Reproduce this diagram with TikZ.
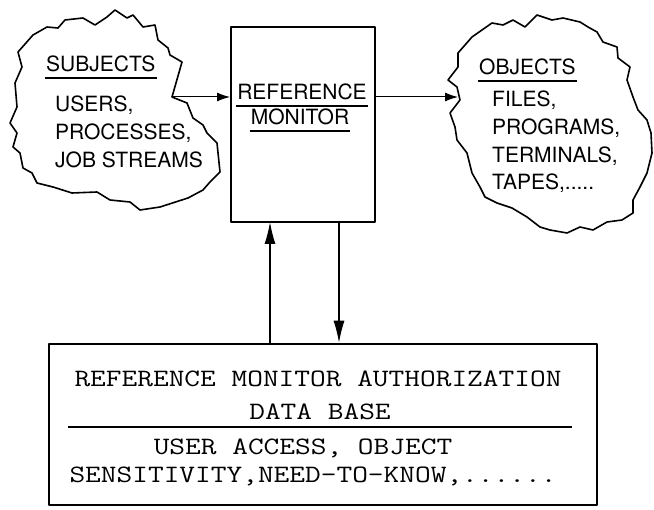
\documentclass[tikz,border=0pt]{standalone}
\usepackage{fontspec}
\usepackage{tikz}
\usetikzlibrary{calc,arrows.meta}
\newfontfamily\lettering{TeX Gyre Heros}
\newcommand{\pxsize}{1pt}
\newcommand{\letters}{\lettering\fontsize{21}{25}\selectfont}
\newcommand{\typed}[1]{\scalebox{1.22}[1]{\ttfamily\fontsize{25}{28}\selectfont #1}}
\newcommand{\ulnode}[1]{
	\draw[line width=1.4pt] ($(#1.base west)+(0,6)$) -- ($(#1.base east)+(0,6)$);
}

\begin{document}
\begin{tikzpicture}[x=\pxsize,y=-\pxsize,line join=round]
	\useasboundingbox (0,0) rectangle (654,510);

	% subjects cloud
	\draw[line width=1.6pt] (18,52) -- (33,35) -- (47,27) -- (58,28) -- (65,20) -- (83,18) -- (95,25)
		-- (107,17) -- (115,10) -- (127,18) -- (133,15) -- (143,27) -- (155,25) -- (158,40)
		-- (168,48) -- (170,55) -- (182,62) -- (172,97) -- (187,103) -- (193,118) -- (203,125)
		-- (207,133) -- (217,143) -- (220,172) -- (210,182) -- (203,190) -- (188,198) -- (160,207)
		-- (140,210) -- (130,202) -- (110,200) -- (97,192) -- (72,193) -- (53,187) -- (37,183)
		-- (32,173) -- (23,168) -- (20,153) -- (13,147) -- (17,133) -- (10,123) -- (17,107)
		-- (15,83) -- (22,67) -- cycle;
	\node[anchor=base west, inner sep=1pt] (subjhead) at (45,72) {\letters SUBJECTS};
	\ulnode{subjhead}
	\node[anchor=base west, inner sep=0pt] (users) at (55,112) {\letters USERS,};
	\node[anchor=base west, inner sep=0pt] (procs) at (55,140) {\letters PROCESSES,};
	\node[anchor=base west, inner sep=0pt] (jobs) at (55,168) {\letters JOB STREAMS};

	% objects cloud
	\draw[line width=1.6pt] (472,37) -- (492,23) -- (503,25) -- (513,20) -- (525,27) -- (537,15)
		-- (552,20) -- (563,18) -- (580,22) -- (588,27) -- (597,32) -- (603,42) -- (617,47)
		-- (618,58) -- (630,67) -- (627,80) -- (633,97) -- (638,110) -- (647,120) -- (651,133)
		-- (652,153) -- (647,173) -- (640,187) -- (633,200) -- (633,213) -- (622,220) -- (607,222)
		-- (593,230) -- (580,227) -- (567,233) -- (550,230) -- (540,227) -- (527,217) -- (512,208)
		-- (497,203) -- (485,197) -- (480,187) -- (472,173) -- (467,153) -- (457,140) -- (455,127)
		-- (450,113) -- (460,100) -- (457,87) -- (448,80) -- (458,67) -- (458,53) -- cycle;
	\node[anchor=base west, inner sep=1pt] (objhead) at (478,75) {\letters OBJECTS};
	\ulnode{objhead}
	\node[anchor=base west, inner sep=0pt] (files) at (492,107) {\letters FILES,};
	\node[anchor=base west, inner sep=0pt] (progs) at (492,135) {\letters PROGRAMS,};
	\node[anchor=base west, inner sep=0pt] (terms) at (492,163) {\letters TERMINALS,};
	\node[anchor=base west, inner sep=0pt] (tapes) at (492,190) {\letters TAPES,.....};

	% reference monitor
	\node[draw, line width=2pt, minimum width=144pt, minimum height=195pt, inner sep=0pt] (monitor) at (303,124.5) {};
	\node[anchor=base, inner sep=1pt] (refword) at (302,100) {\letters REFERENCE};
	\ulnode{refword}
	\node[anchor=base, inner sep=1pt] (monword) at (300,125) {\letters MONITOR};
	\ulnode{monword}

	% data base
	\node[draw, line width=2.5pt, minimum width=548pt, minimum height=161pt, inner sep=0pt] (db) at (323,424.5) {};
	\node[anchor=base, inner sep=0pt] (dbone) at (318,387) {\typed{REFERENCE MONITOR AUTHORIZATION}};
	\node[anchor=base, inner sep=0pt] (dbtwo) at (320,420) {\typed{DATA BASE}};
	\draw[line width=1.5pt] (68,427) -- (572,427);
	\node[anchor=base, inner sep=0pt] (dbthree) at (303,455) {\typed{USER ACCESS, OBJECT}};
	\node[anchor=base, inner sep=0pt] (dbfour) at (313,483) {\typed{SENSITIVITY,NEED-TO-KNOW,......}};

	\coordinate (subjout) at (172,97);
	\coordinate (objin) at (458,97);
	\coordinate (upline) at (270,222);
	\coordinate (downline) at (339,222);

	\draw[line width=1pt, -{Latex[length=13pt,width=9pt]}] (subjout) -- (subjout -| monitor.west);
	\draw[line width=1pt, -{Latex[length=13pt,width=9pt]}] (objin -| monitor.east) -- (objin);
	\draw[line width=1.2pt, -{Latex[length=22pt,width=11pt]}] (upline |- db.north) -- (upline);
	\draw[line width=1.2pt, -{Latex[length=22pt,width=11pt]}] (downline) -- (downline |- db.north);

\end{tikzpicture}
\end{document}
